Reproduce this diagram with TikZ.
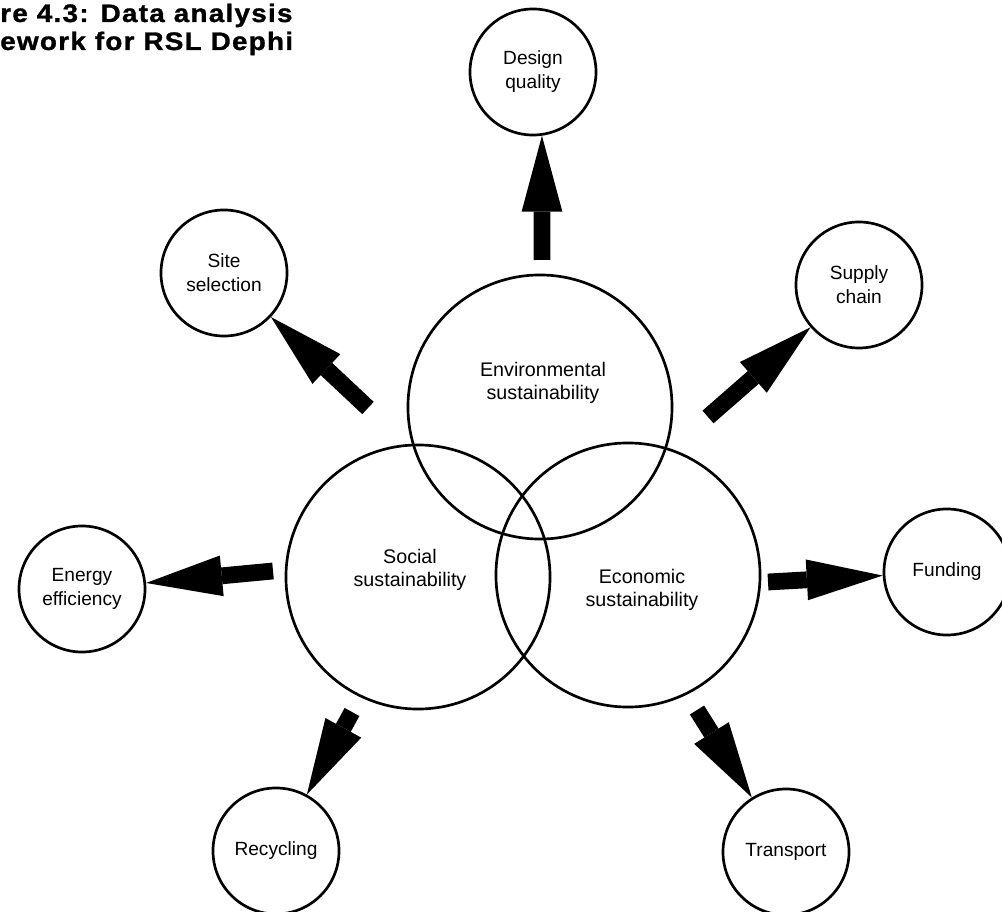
\documentclass[tikz,border=0pt]{standalone}
\usepackage{fontspec}
\setmainfont{Liberation Sans}
\newfontfamily\titlefont[FakeStretch=1.1,LetterSpace=5,FakeBold=1.2]{Liberation Sans}
\usetikzlibrary{arrows.meta}

\begin{document}
\begin{tikzpicture}[x=0.025cm,y=-0.025cm]
\tikzstyle{every node}+=[inner sep=0pt]
\tikzstyle{pillar}=[draw,circle,line width=1.9pt,minimum size=6.6cm]
\tikzstyle{topic}=[draw,circle,line width=1.9pt,minimum size=3.15cm,align=center,font=\fontsize{13.6}{17}\selectfont]
\tikzstyle{lbl}=[align=center,font=\fontsize{14}{16.6}\selectfont]
\tikzstyle{fat}=[line width=0.42cm,-{Triangle[width=1.02cm,length=1.9cm,line width=0pt]}]
\useasboundingbox (0,0) rectangle (1002,912);
% title, cut at the left edge
\node[anchor=base west,font=\titlefont\bfseries\fontsize{18}{20}\selectfont] (title1) at (0,22) {re 4.3: Data analysis};
\node[anchor=base west,font=\titlefont\bfseries\fontsize{18}{20}\selectfont] (title2) at (0,50) {ework for RSL Dephi};
% the three pillars
\node[pillar] (env) at (540,407) {};
\node[pillar] (soc) at (418,577) {};
\node[pillar] (eco) at (628,575) {};
\node[lbl] (envtxt) at (543,383) {Environmental\\sustainability};
\node[lbl] (soctxt) at (410,570) {Social\\sustainability};
\node[lbl] (ecotxt) at (642,590) {Economic\\sustainability};
% the topics round them
\node[topic] (dq) at (533,72) {Design\\quality};
\node[topic] (ss) at (224,273) {Site\\selection};
\node[topic] (sc) at (859,285) {Supply\\chain};
\node[topic] (ee) at (82,589) {Energy\\efficiency};
\node[topic] (fu) at (947,572) {Funding};
\node[topic] (re) at (276,851) {Recycling};
\node[topic] (tr) at (786,852) {Transport};
% arrows
\coordinate (dqfoot) at (542,260);
\coordinate (ssfoot) at (368,408);
\coordinate (scfoot) at (708,417);
\coordinate (eefoot) at (273,571);
\coordinate (fufoot) at (768,582);
\coordinate (refoot) at (352,712);
\coordinate (trfoot) at (697,710);
\draw[fat] (dqfoot) -- (dq.-82);
\draw[fat] (ssfoot) -- (ss);
\draw[fat] (scfoot) -- (sc);
\draw[fat] (eefoot) -- (ee);
\draw[fat] (fufoot) -- (fu);
\draw[fat] (refoot) -- (re);
\draw[fat] (trfoot) -- (tr);
\end{tikzpicture}
\end{document}
